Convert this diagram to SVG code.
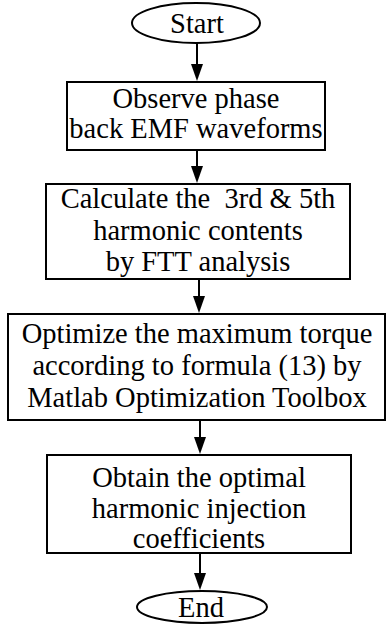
<svg xmlns="http://www.w3.org/2000/svg" width="386" height="625" viewBox="0 0 386 625">
<style>
.shape{fill:#fff;stroke:#000;stroke-width:2}
.t{font-family:"Liberation Serif","Times New Roman",serif;font-size:28.5px;fill:#000;text-anchor:middle;white-space:pre}
.c{stroke:#000;stroke-width:2;fill:none}
.h{fill:#000;stroke:none}
</style>
<rect width="386" height="625" fill="#fff"/>
<g id="start"><ellipse class="shape" cx="196" cy="23" rx="64" ry="20"/><text class="t" x="197" y="33">Start</text></g>
<g id="observe"><rect class="shape" x="67" y="82" width="258" height="68"/><text class="t" x="196" y="108">Observe phase</text><text class="t" x="196" y="138">back EMF waveforms</text></g>
<g id="calculate"><rect class="shape" x="46" y="184" width="304" height="95"/><text class="t" x="198" y="208" xml:space="preserve">Calculate the  3rd &amp; 5th</text><text class="t" x="198" y="240">harmonic contents</text><text class="t" x="198" y="271">by FTT analysis</text></g>
<g id="optimize"><rect class="shape" x="8" y="314" width="377" height="106"/><text class="t" x="197" y="343">Optimize the maximum torque</text><text class="t" x="197" y="375">according to formula (13) by</text><text class="t" x="197" y="407">Matlab Optimization Toolbox</text></g>
<g id="obtain"><rect class="shape" x="47" y="455" width="304" height="98"/><text class="t" x="199" y="487">Obtain the optimal</text><text class="t" x="199" y="518">harmonic injection</text><text class="t" x="199" y="548">coefficients</text></g>
<g id="end"><ellipse class="shape" cx="202" cy="607" rx="65" ry="16"/><text class="t" x="201" y="617">End</text></g>
<g id="connectors">
<line class="c" x1="197" y1="43" x2="197" y2="68"/><path class="h" d="M191,64 L203,64 L197,81 Z"/>
<line class="c" x1="197" y1="151" x2="197" y2="170"/><path class="h" d="M191,166 L203,166 L197,183 Z"/>
<line class="c" x1="199" y1="280" x2="199" y2="300"/><path class="h" d="M193,296 L205,296 L199,313 Z"/>
<line class="c" x1="200" y1="421" x2="200" y2="441"/><path class="h" d="M194,437 L206,437 L200,454 Z"/>
<line class="c" x1="200" y1="554" x2="200" y2="577"/><path class="h" d="M194,573 L206,573 L200,590 Z"/>
</g>
</svg>
